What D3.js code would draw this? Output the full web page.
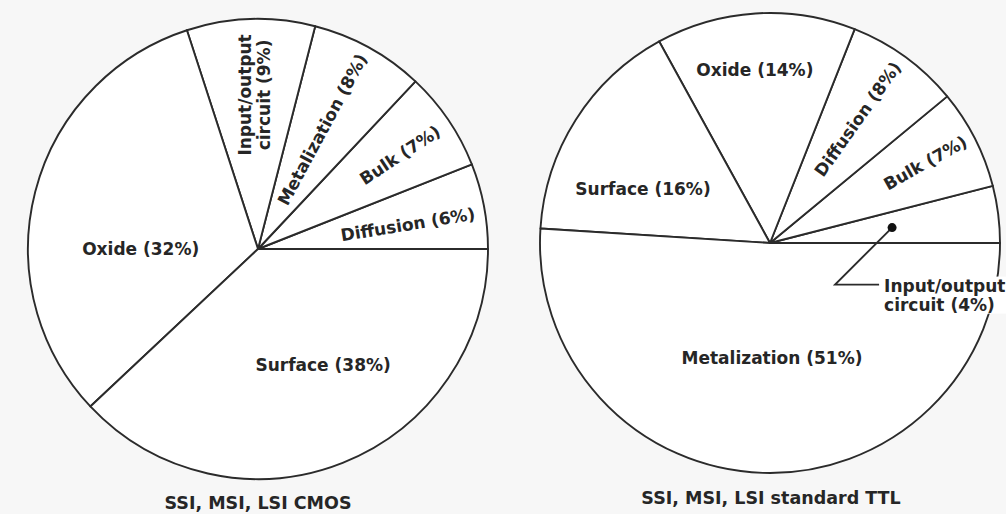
<!DOCTYPE html>
<html>
<head>
<meta charset="utf-8">
<script src="https://cdn.jsdelivr.net/npm/d3@7"></script>
<style>
  html, body { margin: 0; padding: 0; background: #f7f7f7; }
  svg { display: block; }
  text { font-family: "DejaVu Sans", "Noto Sans", sans-serif; font-weight: 700; fill: #262626; }
</style>
</head>
<body>
<svg id="chart" width="1006" height="514"></svg>
<script>
// ---- data ----
const cmosCategories = ["Diffusion", "Bulk", "Metalization", "Input/output circuit", "Oxide", "Surface"];
const cmosValues     = [6, 7, 8, 9, 32, 38];
const cmosTitle      = "SSI, MSI, LSI CMOS";

const ttlCategories  = ["Input/output circuit", "Bulk", "Diffusion", "Oxide", "Surface", "Metalization"];
const ttlValues      = [4, 7, 8, 14, 16, 51];
const ttlTitle       = "SSI, MSI, LSI standard TTL";

// ---- layout ----
const R = 230;
const FS = 17;
const svg = d3.select("#chart");

const charts = [
  {
    cats: cmosCategories, vals: cmosValues, title: cmosTitle,
    cx: 258, cy: 249, titleX: 258, titleY: 509,
    labels: {
      "Diffusion":            { rf: 0.66, da: -1.5, mode: "radial" },
      "Bulk":                 { rf: 0.74, da: -0.7, mode: "radial" },
      "Metalization":         { rf: 0.59, da: 0.5,  mode: "radial" },
      "Input/output circuit": { rf: 0.67, da: -0.3, mode: "vertical" },
      "Oxide":                { rf: 0.51, da: 14.4, mode: "flat" },
      "Surface":              { rf: 0.58, da: 7.6,  mode: "flat" }
    }
  },
  {
    cats: ttlCategories, vals: ttlValues, title: ttlTitle,
    cx: 770, cy: 243, titleX: 771, titleY: 504,
    labels: {
      "Input/output circuit": { rf: 0.535, da: 0, mode: "callout" },
      "Bulk":                 { rf: 0.76, da: 0.3, mode: "radial", rot: 2 },
      "Diffusion":            { rf: 0.66, da: 0.7, mode: "radial" },
      "Oxide":                { rf: 0.755, da: 1.4, mode: "flat" },
      "Surface":              { rf: 0.60, da: 9.4, mode: "flat" },
      "Metalization":         { rf: 0.50, da: 2.8, mode: "flat" }
    }
  }
];

// slices start at 3 o'clock and run counter-clockwise
const pie = d3.pie().sort(null).value(d => d.v)
  .startAngle(Math.PI / 2).endAngle(Math.PI / 2 - 2 * Math.PI);
const arc = d3.arc().innerRadius(0).outerRadius(R);

const stroke = "#2b2b2b";

charts.forEach(c => {
  const data = c.cats.map((name, i) => ({ name, v: c.vals[i] }));
  const arcs = pie(data);
  const g = svg.append("g").attr("transform", `translate(${c.cx},${c.cy})`);

  g.selectAll("path.slice").data(arcs).join("path")
    .attr("class", "slice")
    .attr("d", arc)
    .attr("fill", "#ffffff")
    .attr("stroke", stroke)
    .attr("stroke-width", 1.9)
    .attr("stroke-linejoin", "round");

  arcs.forEach(a => {
    const cfg = c.labels[a.data.name];
    const mid = (a.startAngle + a.endAngle) / 2;
    const thetaDeg = 90 - mid * 180 / Math.PI + cfg.da;
    const th = thetaDeg * Math.PI / 180;
    const rr = cfg.rf * R;
    const x = rr * Math.cos(th), y = -rr * Math.sin(th);
    const txt = `${a.data.name} (${a.data.v}%)`;

    if (cfg.mode === "flat") {
      g.append("text").attr("x", x).attr("y", y)
        .attr("text-anchor", "middle").attr("dominant-baseline", "central")
        .style("font-size", FS + "px").text(txt);
    } else if (cfg.mode === "radial") {
      const rot = -(thetaDeg + (cfg.rot || 0));
      g.append("text")
        .attr("transform", `translate(${x},${y}) rotate(${rot})`)
        .attr("text-anchor", "middle").attr("dominant-baseline", "central")
        .style("font-size", FS + "px").text(txt);
    } else if (cfg.mode === "vertical") {
      const parts = a.data.name.split(" ");
      const t = g.append("text")
        .attr("transform", `translate(${x},${y}) rotate(-90)`)
        .attr("text-anchor", "middle")
        .style("font-size", FS + "px");
      t.append("tspan").attr("x", 0).attr("dy", "-0.2em").text(parts[0]);
      t.append("tspan").attr("x", 0).attr("dy", "1.15em").text(`${parts[1]} (${a.data.v}%)`);
    } else if (cfg.mode === "callout") {
      const parts = a.data.name.split(" ");
      const bend = [x - 57, y + 57];
      const end = [bend[0] + 44, bend[1]];
      const tx = end[0] + 5, ty = bend[1] + 7;
      const lab = g.append("g");
      const t = lab.append("text").attr("x", tx).attr("y", ty)
        .style("font-size", FS + "px");
      t.append("tspan").attr("x", tx).attr("dy", 0).text(parts[0]);
      t.append("tspan").attr("x", tx).attr("dy", "1.12em").text(`${parts[1]} (${a.data.v}%)`);
      const bb = t.node().getBBox();
      lab.insert("rect", "text")
        .attr("x", bb.x - 1).attr("y", bb.y + 1)
        .attr("width", bb.width + 2).attr("height", bb.height - 2)
        .attr("fill", "#ffffff");
      g.append("path")
        .attr("d", d3.line()([[x, y], bend, end]))
        .attr("fill", "none").attr("stroke", stroke).attr("stroke-width", 1.9);
      g.append("circle").attr("cx", x).attr("cy", y).attr("r", 4.5).attr("fill", "#111");
    }
  });

  svg.append("text")
    .attr("x", c.titleX).attr("y", c.titleY)
    .attr("text-anchor", "middle")
    .style("font-size", "17.5px")
    .text(c.title);
});
</script>
</body>
</html>
